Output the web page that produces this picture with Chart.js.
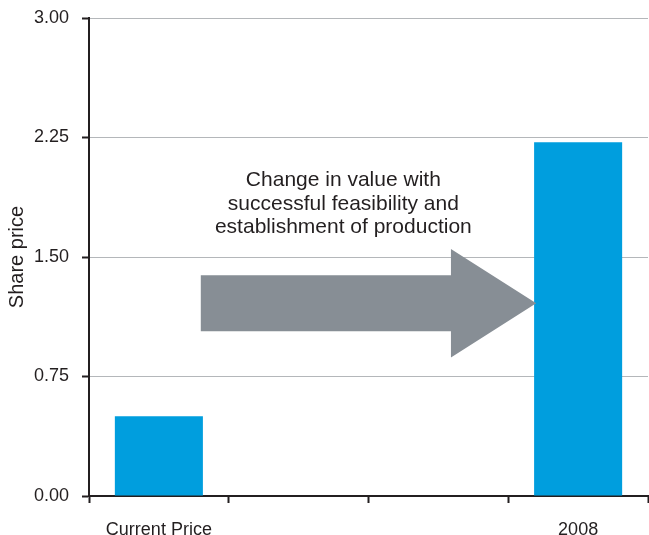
<!DOCTYPE html>
<html>
<head>
<meta charset="utf-8">
<script src="https://cdn.jsdelivr.net/npm/chart.js@4"></script>
<style>
  html, body { margin: 0; padding: 0; background: #fff; }
  #wrap { width: 649px; height: 535px; }
</style>
</head>
<body>
<div id="wrap"><canvas id="grafico"></canvas></div>
<script>
// categorias e valores
const categorias = ["Current Price", "", "", "2008"];
const precos = [0.50, null, null, 2.22];
const yTicks = [0, 0.75, 1.5, 2.25, 3.0];

// texto e seta de anotação (em unidades dos eixos)
const notaTexto = ["Change in value with", "successful feasibility and", "establishment of production"];
const notaX = 1.32;
const notaY = [1.943, 1.796, 1.652];
const seta = { x0: 0.3, xHead: 2.09, x1: 2.7, y: 1.21, meia: 0.176, meiaCabeca: 0.34 };

const FONTE = "'Liberation Sans', Arial, sans-serif";

const pluginSeta = {
    id: "seta",
    afterDatasetsDraw(chart) {
        const ctx = chart.ctx;
        const xs = chart.scales.x;
        const ys = chart.scales.y;
        const base = xs.getPixelForValue(0);
        const step = xs.getPixelForValue(1) - base;
        const xA = base + seta.x0 * step;
        const xH = base + seta.xHead * step;
        const xT = base + seta.x1 * step;
        const yc = ys.getPixelForValue(seta.y);
        const h = ys.getPixelForValue(seta.y - seta.meia) - yc;
        const hh = ys.getPixelForValue(seta.y - seta.meiaCabeca) - yc;

        ctx.save();
        ctx.fillStyle = "#878e95";
        ctx.beginPath();
        ctx.moveTo(xA, yc - h);
        ctx.lineTo(xH, yc - h);
        ctx.lineTo(xH, yc - hh);
        ctx.lineTo(xT, yc);
        ctx.lineTo(xH, yc + hh);
        ctx.lineTo(xH, yc + h);
        ctx.lineTo(xA, yc + h);
        ctx.closePath();
        ctx.fill();

        ctx.fillStyle = "#231f20";
        ctx.font = "21px " + FONTE;
        ctx.textAlign = "center";
        ctx.textBaseline = "alphabetic";
        notaTexto.forEach((linha, i) => {
            ctx.fillText(linha, base + notaX * step, ys.getPixelForValue(notaY[i]));
        });
        ctx.restore();
    }
};

const ctx = document.getElementById("grafico").getContext("2d");
new Chart(ctx, {
    type: "bar",
    data: {
        labels: categorias,
        datasets: [{
            label: "Share price",
            data: precos,
            backgroundColor: "#009ede",
            categoryPercentage: 1.0,
            barPercentage: 0.63
        }]
    },
    options: {
        responsive: true,
        maintainAspectRatio: false,
        animation: false,
        layout: { padding: { top: 18, right: 1, left: 0, bottom: 0 } },
        plugins: {
            legend: { display: false },
            tooltip: { enabled: false }
        },
        scales: {
            x: {
                grid: {
                    drawOnChartArea: false,
                    drawTicks: true,
                    tickLength: 7,
                    tickColor: "#231f20",
                    tickWidth: 2
                },
                border: { color: "#231f20", width: 2 },
                ticks: {
                    color: "#231f20",
                    font: { family: FONTE, size: 18 },
                    padding: 16,
                    maxRotation: 0,
                    autoSkip: false
                },
                afterFit(scale) { scale.height = 39; }
            },
            y: {
                min: 0,
                max: 3,
                afterBuildTicks(scale) {
                    scale.ticks = yTicks.map(v => ({ value: v }));
                },
                grid: {
                    color: "#b4b7ba",
                    lineWidth: 1,
                    tickLength: 7,
                    tickColor: "#231f20",
                    tickWidth: 2
                },
                border: { color: "#231f20", width: 2 },
                ticks: {
                    color: "#231f20",
                    font: { family: FONTE, size: 18 },
                    padding: 13,
                    callback: v => v.toFixed(2)
                },
                title: {
                    display: true,
                    text: "Share price",
                    color: "#231f20",
                    font: { family: FONTE, size: 20 },
                    padding: { top: 5, bottom: 0 }
                },
                afterFit(scale) {
                    scale.width = 89;
                    scale.paddingTop = 0;
                    scale.paddingBottom = 0;
                }
            }
        }
    },
    plugins: [pluginSeta]
});
</script>
</body>
</html>
